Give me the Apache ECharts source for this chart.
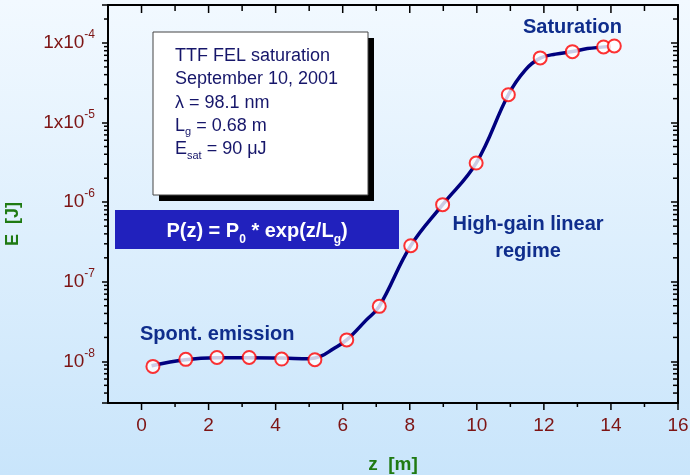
<!DOCTYPE html>
<html>
<head>
<meta charset="utf-8">
<title>TTF FEL saturation</title>
<script src="https://cdn.jsdelivr.net/npm/echarts@6/dist/echarts.min.js"></script>
<style>
html, body { margin: 0; padding: 0; }
#main { width: 690px; height: 475px; }
</style>
</head>
<body>
<div id="main"></div>
<script>
// measured points (z in m, energy in J)
var zPoints = [0.34, 1.32, 2.25, 3.21, 4.18, 5.17, 6.12, 7.09, 8.03, 8.98, 9.98, 10.94, 11.89, 12.85, 13.78, 14.10];
var ePoints = [8.65e-9, 1.06e-8, 1.12e-8, 1.12e-8, 1.07e-8, 1.05e-8, 1.86e-8, 4.91e-8, 2.84e-7, 9.31e-7, 3.10e-6, 2.24e-5, 6.49e-5, 7.78e-5, 8.91e-5, 9.17e-5];

// fitted curve
var zFit = [0.3, 1.3, 2.25, 3.2, 4.2, 5.0, 5.35, 5.7, 6.12, 6.7, 7.09, 8.03, 8.98, 9.98, 10.94, 11.45, 11.89, 12.35, 12.85, 13.3, 13.9];
var eFit = [8.8e-9, 1.05e-8, 1.11e-8, 1.11e-8, 1.10e-8, 1.08e-8, 1.16e-8, 1.42e-8, 1.86e-8, 3.3e-8, 4.91e-8, 2.84e-7, 9.31e-7, 3.10e-6, 2.24e-5, 4.6e-5, 6.45e-5, 7.25e-5, 7.8e-5, 8.5e-5, 9.0e-5];

// axis ranges and tick marks
var zMin = -1, zMax = 16;
var eMin = 3e-9, eMax = 3e-4;
var zMajorTicks = [0, 2, 4, 6, 8, 10, 12, 14, 16];
var zMinorTicks = [1, 3, 5, 7, 9, 11, 13, 15];
var decades = [1e-9, 1e-8, 1e-7, 1e-6, 1e-5, 1e-4];
var minorSteps = [2, 3, 4, 5, 6, 7, 8, 9];

var yMinorTicks = [];
decades.forEach(function (d) {
    minorSteps.forEach(function (m) {
        var v = d * m;
        if (v > eMin * 1.0001 && v < eMax * 0.9999) yMinorTicks.push(v);
    });
});

var FONT = "'Liberation Sans', Arial, sans-serif";
var labelRed = '#7d1414';
var nameGreen = '#1f7a12';
var noteBlue = '#0f2d8c';

var myChart = echarts.init(document.getElementById('main'));

function tickLine(x1, y1, x2, y2) {
    return { type: 'line', shape: { x1: x1, y1: y1, x2: x2, y2: y2 }, style: { stroke: '#000', lineWidth: 1.5 } };
}

var zTicks = zMajorTicks.map(function (z) { return [z, eMin, 1]; })
    .concat(zMinorTicks.map(function (z) { return [z, eMin, 0]; }));

var option = {
    backgroundColor: new echarts.graphic.LinearGradient(0, 0, 0, 1, [
        { offset: 0, color: '#f2f9ff' },
        { offset: 1, color: '#c9e5fb' }
    ]),
    animation: false,
    grid: { left: 108, right: 12, top: 5, bottom: 72, outerBoundsMode: 'none', containLabel: false },
    xAxis: [
        {
            type: 'value',
            min: zMin, max: zMax, interval: 1,
            name: 'z  [m]',
            nameLocation: 'middle',
            nameGap: 52,
            nameTextStyle: { color: nameGreen, fontWeight: 'bold', fontSize: 19, fontFamily: FONT },
            axisLine: { show: true, onZero: false, lineStyle: { color: '#000', width: 2 } },
            axisTick: { show: false },
            splitLine: { show: false },
            axisLabel: {
                color: labelRed, fontSize: 19, fontFamily: FONT, margin: 13,
                formatter: function (v) { return (v >= 0 && v % 2 === 0) ? String(v) : ''; }
            }
        },
        {
            type: 'value', position: 'top',
            min: zMin, max: zMax, interval: 1,
            axisLine: { show: true, onZero: false, lineStyle: { color: '#000', width: 2 } },
            axisTick: { show: false },
            axisLabel: { show: false },
            splitLine: { show: false }
        }
    ],
    yAxis: [
        {
            type: 'log', logBase: 10,
            min: eMin, max: eMax,
            axisLine: { show: true, onZero: false, lineStyle: { color: '#000', width: 2 } },
            axisTick: { show: true, length: 6, lineStyle: { color: '#000', width: 1.5 } },
            splitLine: { show: false },
            axisLabel: {
                color: labelRed, fontFamily: FONT, margin: 13,
                formatter: function (v) {
                    var e = Math.round(Math.log10(v));
                    if (Math.abs(v - Math.pow(10, e)) / v > 1e-6) return '';
                    if (e >= -5) return '{b|1x10}{sup|' + e + '}';
                    return '{b|10}{sup|' + e + '}';
                },
                rich: {
                    b: { fontSize: 19, lineHeight: 28, color: labelRed, fontFamily: FONT },
                    sup: { fontSize: 12, lineHeight: 12, verticalAlign: 'top', color: labelRed, fontFamily: FONT }
                }
            }
        },
        {
            type: 'log', logBase: 10, position: 'right',
            min: eMin, max: eMax,
            axisLine: { show: true, onZero: false, lineStyle: { color: '#000', width: 2 } },
            axisTick: { show: true, inside: true, length: 7, lineStyle: { color: '#000', width: 1.5 } },
            axisLabel: { show: false },
            splitLine: { show: false }
        }
    ],
    graphic: [
        // info box with shadow
        { type: 'rect', shape: { x: 159, y: 38, width: 215, height: 163 }, style: { fill: '#000' }, z: 10 },
        { type: 'rect', shape: { x: 153, y: 32, width: 215, height: 163 }, style: { fill: '#fff', stroke: '#444', lineWidth: 1 }, z: 11 },
        {
            type: 'text', x: 175, y: 44.5, z: 12,
            style: {
                text: 'TTF FEL saturation\nSeptember 10, 2001\nλ = 98.1 nm\nL{sub|g} = 0.68 m\nE{sub|sat} = 90 μJ',
                fill: '#16166a', font: '18px ' + FONT, lineHeight: 23.3,
                rich: {
                    sub: { fontSize: 11, lineHeight: 23.3, verticalAlign: 'bottom', fill: '#16166a', fontFamily: FONT }
                }
            }
        },
        // formula banner
        { type: 'rect', shape: { x: 115, y: 210, width: 284, height: 39 }, style: { fill: '#2121bd' }, z: 10 },
        {
            type: 'text', x: 257, y: 231, z: 12,
            style: {
                text: 'P(z) = P{sub|0} * exp(z/L{sub|g})',
                fill: '#fff', font: 'bold 20px ' + FONT, align: 'center', verticalAlign: 'middle',
                rich: {
                    sub: { fontSize: 12, fontWeight: 'bold', verticalAlign: 'bottom', lineHeight: 30, fill: '#fff', fontFamily: FONT }
                }
            }
        },
        // annotations
        {
            type: 'text', x: 523, y: 27, z: 12,
            style: { text: 'Saturation', fill: noteBlue, font: 'bold 20px ' + FONT, verticalAlign: 'middle' }
        },
        {
            type: 'text', x: 528, y: 238, z: 12,
            style: { text: 'High-gain linear\nregime', fill: noteBlue, font: 'bold 20px ' + FONT, align: 'center', verticalAlign: 'middle', lineHeight: 27 }
        },
        {
            type: 'text', x: 140, y: 334, z: 12,
            style: { text: 'Spont. emission', fill: noteBlue, font: 'bold 20px ' + FONT, verticalAlign: 'middle' }
        },
        // y axis title
        {
            type: 'text', x: 13, y: 224, rotation: Math.PI / 2, z: 12,
            style: { text: 'E  [J]', fill: nameGreen, font: 'bold 18px ' + FONT, align: 'center', verticalAlign: 'middle' }
        }
    ],
    series: [
        {
            name: 'fit',
            type: 'line',
            data: zFit.map(function (z, i) { return [z, eFit[i]]; }),
            smooth: 0.4,
            showSymbol: false,
            lineStyle: { color: '#00007f', width: 3.5 },
            z: 3
        },
        {
            name: 'measured',
            type: 'scatter',
            data: zPoints.map(function (z, i) { return [z, ePoints[i]]; }),
            symbol: 'circle',
            symbolSize: 13,
            itemStyle: { color: '#fff', borderColor: '#ff0000', borderWidth: 2 },
            z: 4
        },
        {
            // log minor ticks on left and right axes
            type: 'custom',
            silent: true,
            clip: false,
            data: yMinorTicks.map(function (v) { return [zMin, v]; }),
            renderItem: function (params, api) {
                var l = api.coord([zMin, api.value(1)]);
                var r = api.coord([zMax, api.value(1)]);
                return {
                    type: 'group',
                    children: [
                        tickLine(l[0] - 4, l[1], l[0], l[1]),
                        tickLine(r[0] - 5, r[1], r[0], r[1])
                    ]
                };
            }
        },
        {
            // major (even) and minor (odd) ticks on bottom and top axes
            type: 'custom',
            silent: true,
            clip: false,
            data: zTicks,
            renderItem: function (params, api) {
                var major = api.value(2) === 1;
                var b = api.coord([api.value(0), eMin]);
                var t = api.coord([api.value(0), eMax]);
                return {
                    type: 'group',
                    children: [
                        tickLine(b[0], b[1], b[0], b[1] + (major ? 7 : 4)),
                        tickLine(t[0], t[1], t[0], t[1] + (major ? 8 : 6))
                    ]
                };
            }
        }
    ]
};

myChart.setOption(option);
</script>
</body>
</html>
